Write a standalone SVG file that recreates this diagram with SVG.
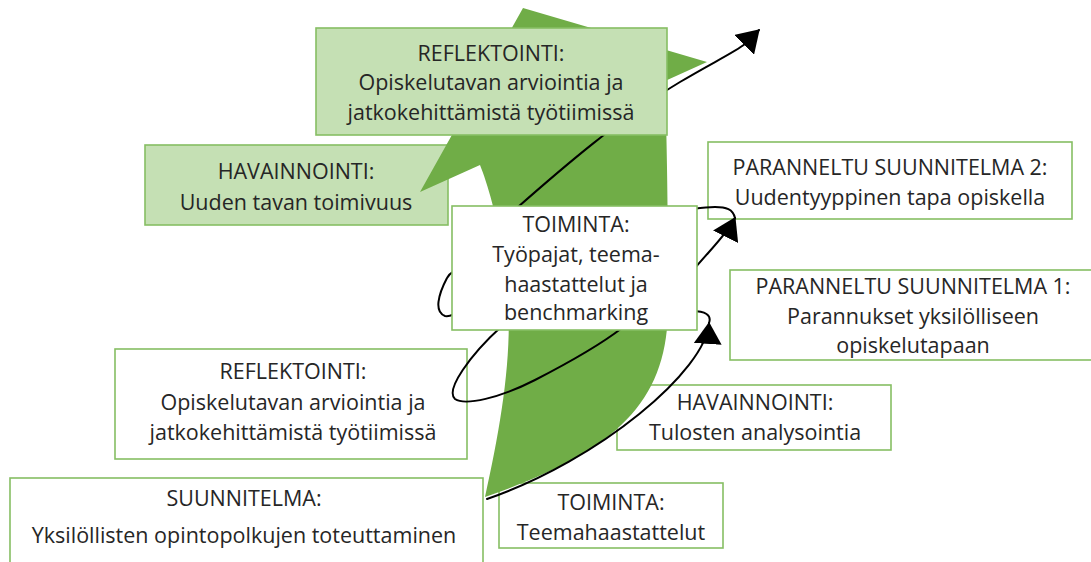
<svg xmlns="http://www.w3.org/2000/svg" width="1091" height="562" viewBox="0 0 1091 562">
  <style>
    .box { fill: #ffffff; stroke: #86be63; stroke-width: 1.6; }
    .box.tint { fill: #c5e0b4; }
    .lbl { font-family: "Open Sans", "Liberation Sans", sans-serif; font-size: 21.5px; fill: #262626; text-anchor: middle; }
    .spiral { fill: none; stroke: #000000; stroke-width: 2; stroke-linecap: round; }
    .growth { fill: #70ad47; }
  </style>
  <defs>
    <marker id="head" markerUnits="userSpaceOnUse" markerWidth="22" markerHeight="28" viewBox="0 0 22 28" refX="21" refY="14" orient="auto">
      <path d="M0,0 L22,14 L0,28 Z" fill="#000000"/>
    </marker>
  </defs>

  <!-- boxes lying underneath the growth arrow -->
  <g id="havainnointi-1">
    <rect class="box tint" x="145" y="145" width="303" height="80"/>
    <text class="lbl" x="296" y="179">HAVAINNOINTI:</text>
    <text class="lbl" x="296" y="210">Uuden tavan toimivuus</text>
  </g>
  <g id="reflektointi-1">
    <rect class="box" x="115" y="349" width="352" height="110"/>
    <text class="lbl" x="293" y="379">REFLEKTOINTI:</text>
    <text class="lbl" x="293" y="410">Opiskelutavan arviointia ja</text>
    <text class="lbl" x="293" y="440">jatkokehittämistä työtiimissä</text>
  </g>
  <g id="suunnitelma">
    <rect class="box" x="10" y="478" width="473" height="100"/>
    <text class="lbl" x="244" y="506">SUUNNITELMA:</text>
    <text class="lbl" x="244" y="543">Yksilöllisten opintopolkujen toteuttaminen</text>
  </g>
  <g id="havainnointi-2">
    <rect class="box" x="617" y="385" width="274" height="65"/>
    <text class="lbl" x="755" y="410">HAVAINNOINTI:</text>
    <text class="lbl" x="755" y="440">Tulosten analysointia</text>
  </g>
  <g id="toiminta-1">
    <rect class="box" x="499" y="483" width="224" height="65"/>
    <text class="lbl" x="611" y="510">TOIMINTA:</text>
    <text class="lbl" x="611" y="540">Teemahaastattelut</text>
  </g>
  <g id="parannettu-1">
    <rect class="box" x="730" y="270" width="366" height="90"/>
    <text class="lbl" x="913" y="294">PARANNELTU SUUNNITELMA 1:</text>
    <text class="lbl" x="913" y="324">Parannukset yksilölliseen</text>
    <text class="lbl" x="913" y="353">opiskelutapaan</text>
  </g>
  <g id="parannettu-2">
    <rect class="box" x="708" y="142" width="364" height="77"/>
    <text class="lbl" x="890" y="175">PARANNELTU SUUNNITELMA 2:</text>
    <text class="lbl" x="890" y="205">Uudentyyppinen tapa opiskella</text>
  </g>

  <!-- broad curved arrow of development -->
  <g id="growth-arrow">
    <path class="growth" d="M485,497 C500,430 512,360 508,300 C504,240 490,190 480,165 L420,192 L523,8 L707,62 L665,81 C668,180 668,250 668,300 C670,400 620,450 485,497 Z"/>
  </g>

  <!-- spiral of cycles -->
  <g id="connectors">
    <path class="spiral" marker-end="url(#head)" d="M487,499 C600,460 706,370 709,323"/>
    <path class="spiral" marker-end="url(#head)" d="M709,323 C712,315 705,311 692,311 C640,311 540,300 502,326 C470,355 445,390 455,399 C465,406 500,398 535,380 C570,362 600,345 622,328 C650,310 680,290 695,268 C710,250 727,234 735,218"/>
    <path class="spiral" marker-end="url(#head)" d="M735,218 C733,209 726,207 715,207 C700,207 640,215 560,240 C500,258 455,262 447,278 C438,295 434,312 445,316 C470,320 500,240 518,207 C560,170 620,118 680,82 C710,64 735,52 745,44 L759,30"/>
  </g>

  <!-- boxes lying on top -->
  <g id="toiminta-2">
    <rect class="box" x="452" y="206" width="245" height="124"/>
    <text class="lbl" x="576" y="232">TOIMINTA:</text>
    <text class="lbl" x="576" y="262">Työpajat, teema-</text>
    <text class="lbl" x="576" y="292">haastattelut ja</text>
    <text class="lbl" x="576" y="320">benchmarking</text>
  </g>
  <g id="reflektointi-2">
    <rect class="box tint" x="316" y="28" width="351" height="107"/>
    <text class="lbl" x="491" y="61">REFLEKTOINTI:</text>
    <text class="lbl" x="491" y="90">Opiskelutavan arviointia ja</text>
    <text class="lbl" x="491" y="120">jatkokehittämistä työtiimissä</text>
  </g>
</svg>
